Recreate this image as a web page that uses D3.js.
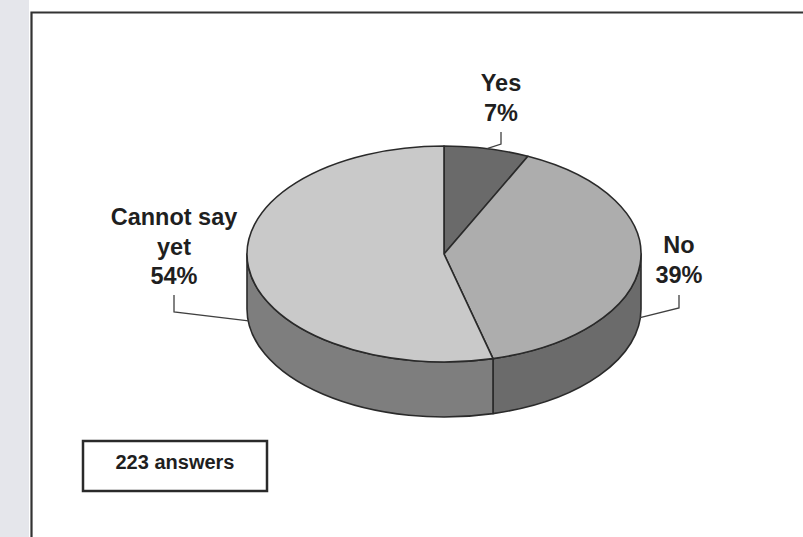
<!DOCTYPE html>
<html>
<head>
<meta charset="utf-8">
<script src="https://cdn.jsdelivr.net/npm/d3@7"></script>
<style>
  html, body { margin: 0; padding: 0; background: #ffffff; }
  svg { display: block; }
  text { font-family: "Liberation Sans", Arial, Helvetica, sans-serif; font-weight: bold; fill: #1f1f1f; }
</style>
</head>
<body>
<svg id="chart" width="803" height="537"></svg>
<script>
// Survey answers
const categories = ["Yes", "No", "Cannot say yet"];
const percents = [7, 39, 54];
const labelLines = [["Yes", "7%"], ["No", "39%"], ["Cannot say", "yet", "54%"]];
const answersNote = "223 answers";

const topColors = ["#6a6a6a", "#adadad", "#c9c9c9"];
const sideColors = ["#4e4e4e", "#6b6b6b", "#7e7e7e"];

const W = 803, H = 537;
const svg = d3.select("#chart");

// scanned-page margin at the left edge
svg.append("rect").attr("x", 0).attr("y", 0).attr("width", 29).attr("height", H).attr("fill", "#e5e6eb");

// chart frame (runs off the right and bottom edges)
svg.append("path")
  .attr("d", `M31.5,${H + 5} V12.5 H${W + 5}`)
  .attr("fill", "none").attr("stroke", "#333333").attr("stroke-width", 2.2);

// 3D pie geometry
const cx = 444, cy = 254, rx = 197, ry = 108, depth = 55;
const pt = (a, dy = 0) => [cx + rx * Math.sin(a), cy - ry * Math.cos(a) + dy];

const pie = d3.pie().sort(null).value(d => d)(percents);

const g = svg.append("g");

// visible side walls: front half of the rim, angles between pi/2 and 3pi/2
pie.forEach((s, i) => {
  const a0 = Math.max(s.startAngle, Math.PI / 2);
  const a1 = Math.min(s.endAngle, 3 * Math.PI / 2);
  if (a1 <= a0) return;
  const [x0, y0] = pt(a0), [x1, y1] = pt(a1);
  const large = (a1 - a0) > Math.PI ? 1 : 0;
  const d = `M${x0},${y0} A${rx},${ry} 0 ${large} 1 ${x1},${y1} L${x1},${y1 + depth} ` +
            `A${rx},${ry} 0 ${large} 0 ${x0},${y0 + depth} Z`;
  g.append("path").attr("d", d)
    .attr("fill", sideColors[i]).attr("stroke", "#2a2a2a").attr("stroke-width", 1.6)
    .attr("stroke-linejoin", "round");
});

// top faces
pie.forEach((s, i) => {
  const [x0, y0] = pt(s.startAngle), [x1, y1] = pt(s.endAngle);
  const large = (s.endAngle - s.startAngle) > Math.PI ? 1 : 0;
  const d = `M${cx},${cy} L${x0},${y0} A${rx},${ry} 0 ${large} 1 ${x1},${y1} Z`;
  g.append("path").attr("d", d)
    .attr("fill", topColors[i]).attr("stroke", "#2a2a2a").attr("stroke-width", 1.6)
    .attr("stroke-linejoin", "round");
});

// labels and leader lines
const labelX = [501, 679, 174];
const labelTop = [91, 253, 225];
const lineGap = 29.5;
const leaderTop = [132, 295, 295];
const leaderBend = [144, 308, 312];

pie.forEach((s, i) => {
  const mid = (s.startAngle + s.endAngle) / 2;
  const front = Math.cos(mid) < 0;
  const [ex, ey] = pt(mid, front ? depth * 0.97 : 0);
  svg.append("path")
    .attr("d", `M${labelX[i]},${leaderTop[i]} V${leaderBend[i]} L${ex},${ey}`)
    .attr("fill", "none").attr("stroke", "#404040").attr("stroke-width", 1.3);

  const t = svg.append("text").attr("text-anchor", "middle").attr("font-size", 23.5);
  labelLines[i].forEach((line, k) => {
    t.append("tspan").attr("x", labelX[i]).attr("y", labelTop[i] + k * lineGap).text(line);
  });
});

// answers count box
svg.append("rect").attr("x", 83).attr("y", 441).attr("width", 184).attr("height", 50)
  .attr("fill", "#ffffff").attr("stroke", "#2a2a2a").attr("stroke-width", 2.5);
svg.append("text").attr("x", 175).attr("y", 469).attr("text-anchor", "middle")
  .attr("font-size", 20).text(answersNote);
</script>
</body>
</html>
